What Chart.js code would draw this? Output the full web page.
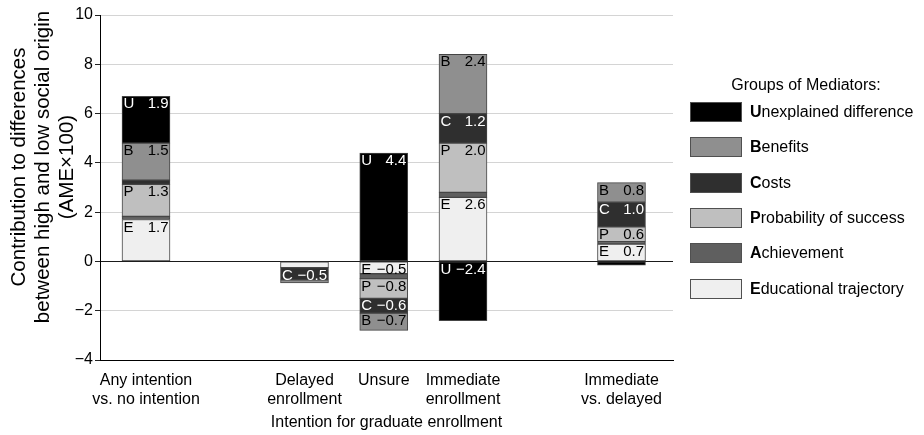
<!DOCTYPE html>
<html>
<head>
<meta charset="utf-8">
<script src="https://cdn.jsdelivr.net/npm/chart.js@4.4.0/dist/chart.umd.min.js"></script>
<style>
  html, body { margin: 0; padding: 0; background: #ffffff; }
  #wrap { width: 924px; height: 435px; position: relative; }
</style>
</head>
<body>
<div id="wrap"><canvas id="chart" width="924" height="435"></canvas></div>
<script>
const FONT = '"Liberation Sans", Arial, Helvetica, sans-serif';

// Slot positions on the x axis (gaps separate the comparison groups)
const slotPositions = [0, 2, 3, 4, 6];
const categoryLabels = [
  ['Any intention', 'vs. no intention'],
  ['Delayed', 'enrollment'],
  ['Unsure'],
  ['Immediate', 'enrollment'],
  ['Immediate', 'vs. delayed']
];

// Mediator groups, stacked from the zero line outwards
const seriesNames = [
  'Educational trajectory',
  'Achievement',
  'Probability of success',
  'Costs',
  'Benefits',
  'Unexplained difference'
];
const seriesColors = ['#efefef', '#5f5f5f', '#bfbfbf', '#2f2f2f', '#8f8f8f', '#000000'];

// Contributions (AME x 100) per slot
const educational  = [1.7, -0.25, -0.5, 2.6, 0.7];
const achievement  = [0.13, null, -0.2, 0.2, 0.1];
const probability  = [1.3, null, -0.8, 2.0, 0.6];
const costs        = [0.17, -0.5, -0.6, 1.2, 1.0];
const benefits     = [1.5, -0.12, -0.7, 2.4, 0.8];
const unexplained  = [1.9, null, 4.4, -2.4, -0.15];
const seriesValues = [educational, achievement, probability, costs, benefits, unexplained];

const yTicks = [-4, -2, 0, 2, 4, 6, 8, 10];
const yTitleLines = ['Contribution to differences', 'between high and low social origin', '(AME\u00d7100)'];
const xTitle = 'Intention for graduate enrollment';
const legendTitle = 'Groups of Mediators:';
const legendOrder = ['Unexplained difference', 'Benefits', 'Costs', 'Probability of success', 'Achievement', 'Educational trajectory'];
const darkSeries = ['Unexplained difference', 'Costs'];

const fmt = v => v.toFixed(1).replace('-', '\u2212');

const datasets = seriesNames.map((name, i) => ({
  label: name,
  data: slotPositions
    .map((x, j) => ({ x: x, y: seriesValues[i][j] }))
    .filter(p => p.y !== null),
  backgroundColor: seriesColors[i],
  borderColor: '#454545',
  borderWidth: 1,
  borderSkipped: false,
  barThickness: 48
}));

// In-bar labels: initial letter on the left, value on the right
const segmentLabels = {
  id: 'segmentLabels',
  afterDatasetsDraw(chart) {
    const ctx = chart.ctx;
    ctx.save();
    ctx.font = '15px ' + FONT;
    ctx.textBaseline = 'alphabetic';
    chart.data.datasets.forEach((ds, i) => {
      const meta = chart.getDatasetMeta(i);
      const letter = ds.label.charAt(0);
      ctx.fillStyle = darkSeries.includes(ds.label) ? '#ffffff' : '#000000';
      meta.data.forEach((el, j) => {
        const v = ds.data[j].y;
        if (Math.abs(v) < 0.45) return;
        const p = el.getProps(['x', 'y', 'base', 'width'], true);
        const top = Math.min(p.y, p.base);
        const left = p.x - p.width / 2;
        const right = p.x + p.width / 2;
        ctx.textAlign = 'left';
        ctx.fillText(letter, left + 1.5, top + 12);
        ctx.textAlign = 'right';
        ctx.fillText(fmt(v), right - 1.5, top + 12);
      });
    });
    ctx.restore();
  }
};

// Vertical axis title (three centred lines)
const yAxisTitle = {
  id: 'yAxisTitle',
  afterDraw(chart) {
    const ctx = chart.ctx;
    ctx.save();
    ctx.font = '20.5px ' + FONT;
    ctx.fillStyle = '#000000';
    ctx.textAlign = 'center';
    ctx.textBaseline = 'middle';
    ctx.translate(0, 167);
    ctx.rotate(-Math.PI / 2);
    yTitleLines.forEach((line, k) => ctx.fillText(line, 0, 19 + k * 24));
    ctx.restore();
  }
};

// Legend with bold initials
const mediatorLegend = {
  id: 'mediatorLegend',
  afterDraw(chart) {
    const ctx = chart.ctx;
    ctx.save();
    ctx.font = '16px ' + FONT;
    ctx.fillStyle = '#000000';
    ctx.textAlign = 'center';
    ctx.textBaseline = 'alphabetic';
    ctx.fillText(legendTitle, 806, 90);
    legendOrder.forEach((name, k) => {
      const i = seriesNames.indexOf(name);
      const y = Math.round(102 + k * 35.3);
      ctx.fillStyle = seriesColors[i];
      ctx.fillRect(690.5, y + 0.5, 51, 19);
      ctx.strokeStyle = '#505050';
      ctx.lineWidth = 1;
      ctx.strokeRect(690.5, y + 0.5, 51, 19);
      ctx.fillStyle = '#000000';
      ctx.textAlign = 'left';
      ctx.textBaseline = 'middle';
      ctx.font = 'bold 16px ' + FONT;
      const first = name.charAt(0);
      ctx.fillText(first, 750, y + 10.5);
      const w = ctx.measureText(first).width;
      ctx.font = '16px ' + FONT;
      ctx.fillText(name.slice(1), 750 + w, y + 10.5);
    });
    ctx.restore();
  }
};

new Chart(document.getElementById('chart'), {
  type: 'bar',
  data: { datasets: datasets },
  plugins: [segmentLabels, yAxisTitle, mediatorLegend],
  options: {
    responsive: false,
    animation: false,
    devicePixelRatio: 1,
    layout: { padding: { top: 15, right: 251, bottom: 0, left: 0 } },
    plugins: {
      legend: { display: false },
      tooltip: { enabled: false }
    },
    scales: {
      x: {
        type: 'linear',
        min: -0.5804,
        max: 6.65,
        offset: false,
        stacked: true,
        grid: { display: false, drawTicks: false, offset: false },
        border: { display: true, color: '#000000', width: 1 },
        afterBuildTicks: scale => { scale.ticks = slotPositions.map(v => ({ value: v })); },
        afterFit: scale => { scale.height = 75; },
        ticks: {
          autoSkip: false,
          maxRotation: 0,
          padding: 11,
          color: '#000000',
          font: { family: FONT, size: 16, lineHeight: 1.2 },
          callback: value => {
            const k = slotPositions.indexOf(value);
            return k >= 0 ? categoryLabels[k] : '';
          }
        },
        title: {
          display: true,
          text: xTitle,
          color: '#000000',
          font: { family: FONT, size: 16, lineHeight: 1.2 },
          padding: { top: 0, bottom: 3 }
        }
      },
      y: {
        min: -4,
        max: 10,
        stacked: true,
        afterBuildTicks: scale => { scale.ticks = yTicks.map(v => ({ value: v })); },
        afterFit: scale => { scale.width = 100; },
        grid: {
          color: c => (c.tick && c.tick.value === 0) ? '#1a1a1a' : '#d4d4d4',
          lineWidth: 1,
          drawTicks: true,
          tickLength: 5,
          tickColor: '#222222'
        },
        border: { display: true, color: '#000000', width: 1 },
        ticks: {
          padding: 2,
          color: '#000000',
          font: { family: FONT, size: 16 },
          callback: v => String(v).replace('-', '\u2212')
        }
      }
    }
  }
});
</script>
</body>
</html>
